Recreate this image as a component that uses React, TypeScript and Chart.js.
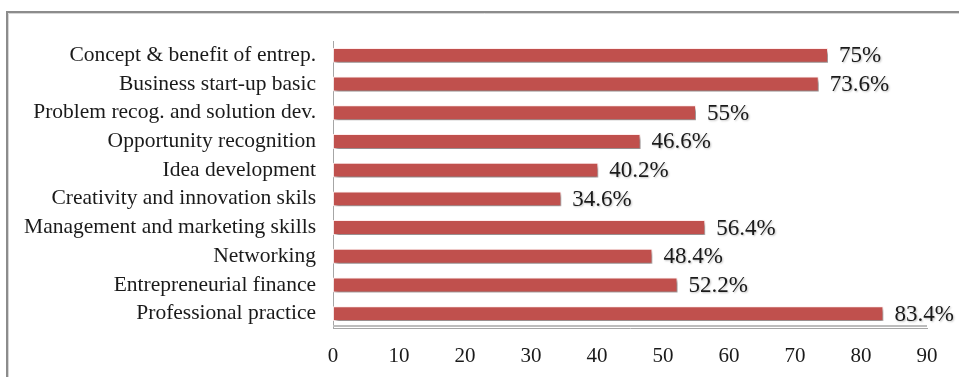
import React, { useEffect, useRef } from "react";
import { Chart, registerables } from "chart.js";

Chart.register(...registerables);

const categories: string[] = [
  "Concept & benefit of entrep.",
  "Business start-up basic",
  "Problem recog. and solution dev.",
  "Opportunity recognition",
  "Idea development",
  "Creativity and innovation skils",
  "Management and marketing skills",
  "Networking",
  "Entrepreneurial finance",
  "Professional practice",
];

const percentages: number[] = [75, 73.6, 55, 46.6, 40.2, 34.6, 56.4, 48.4, 52.2, 83.4];

const axisMin = 0;
const axisMax = 90;
const axisStep = 10;

const FONT = "'Liberation Serif', 'Times New Roman', serif";
const BAR_RED = "#C0504D";
const TEXT = "#1a1a1a";

// Outer frame around the chart, open to the right and bottom edges.
const framePlugin = {
  id: "frame",
  beforeDraw(chart: Chart) {
    const { ctx, width, height } = chart;
    ctx.save();
    ctx.strokeStyle = "#8c8c8c";
    ctx.lineWidth = 2;
    ctx.beginPath();
    ctx.moveTo(7, height + 5);
    ctx.lineTo(7, 12);
    ctx.lineTo(width + 5, 12);
    ctx.stroke();
    ctx.strokeStyle = "#d6d6d6";
    ctx.lineWidth = 1;
    ctx.beginPath();
    ctx.moveTo(8.5, height + 5);
    ctx.lineTo(8.5, 13.5);
    ctx.lineTo(width + 5, 13.5);
    ctx.stroke();
    ctx.restore();
  },
};

// Soft drop shadow under the bars.
const barShadowPlugin = {
  id: "barShadow",
  beforeDatasetsDraw(chart: Chart) {
    const ctx = chart.ctx;
    ctx.save();
    ctx.shadowColor = "rgba(0,0,0,0.45)";
    ctx.shadowOffsetX = 2;
    ctx.shadowOffsetY = 3;
    ctx.shadowBlur = 3;
  },
  afterDatasetsDraw(chart: Chart) {
    chart.ctx.restore();
  },
};

// Percentage labels to the right of each bar.
const valueLabelPlugin = {
  id: "valueLabels",
  afterDatasetsDraw(chart: Chart) {
    const { ctx } = chart;
    const meta = chart.getDatasetMeta(0);
    const xScale = chart.scales.x;
    ctx.save();
    ctx.font = `23px ${FONT}`;
    ctx.fillStyle = TEXT;
    ctx.textAlign = "left";
    ctx.textBaseline = "middle";
    ctx.shadowColor = "rgba(0,0,0,0.25)";
    ctx.shadowOffsetX = 1;
    ctx.shadowOffsetY = 1;
    ctx.shadowBlur = 2;
    percentages.forEach((v, i) => {
      const bar = meta.data[i];
      const x = xScale.getPixelForValue(v) + 11;
      ctx.fillText(`${v}%`, x, bar.y + 1);
    });
    ctx.restore();
  },
};

// Doubled grey baseline along the value axis.
const baselinePlugin = {
  id: "baseline",
  afterDatasetsDraw(chart: Chart) {
    const { ctx, chartArea } = chart;
    ctx.save();
    ctx.strokeStyle = "#bdbdbd";
    ctx.lineWidth = 2;
    ctx.beginPath();
    ctx.moveTo(chartArea.left, chartArea.bottom - 2);
    ctx.lineTo(chartArea.right, chartArea.bottom - 2);
    ctx.stroke();
    ctx.restore();
  },
};

export default function App() {
  const canvasRef = useRef<HTMLCanvasElement>(null);

  useEffect(() => {
    if (!canvasRef.current) return;
    const chart = new Chart(canvasRef.current, {
      type: "bar",
      data: {
        labels: categories,
        datasets: [
          {
            data: percentages,
            backgroundColor: BAR_RED,
            borderColor: "rgba(255,235,235,0.9)",
            borderWidth: 1,
            borderSkipped: false,
            categoryPercentage: 1,
            barPercentage: 0.52,
          },
        ],
      },
      options: {
        indexAxis: "y",
        animation: false,
        responsive: false,
        maintainAspectRatio: false,
        layout: { padding: { top: 41, right: 32, left: 0, bottom: 0 } },
        plugins: {
          legend: { display: false },
          tooltip: { enabled: false },
        },
        scales: {
          x: {
            min: axisMin,
            max: axisMax,
            afterFit(scale: any) {
              scale.height = 49;
            },
            ticks: {
              stepSize: axisStep,
              padding: 16,
              color: TEXT,
              font: { family: FONT, size: 21 },
            },
            grid: { display: false, drawTicks: false },
            border: { display: true, color: "#a6a6a6", width: 1 },
          },
          y: {
            afterFit(scale: any) {
              scale.width = 333;
            },
            ticks: {
              autoSkip: false,
              padding: 17,
              color: TEXT,
              font: { family: FONT, size: 21.5 },
            },
            grid: { display: false, drawTicks: false },
            border: { display: true, color: "#a6a6a6", width: 1 },
          },
        },
      },
      plugins: [framePlugin, barShadowPlugin, baselinePlugin, valueLabelPlugin],
    });
    return () => chart.destroy();
  }, []);

  return (
    <div style={{ position: "fixed", left: 0, top: 0, width: 959, height: 377, background: "#fff" }}>
      <canvas ref={canvasRef} width={959} height={377} style={{ display: "block" }} />
    </div>
  );
}
